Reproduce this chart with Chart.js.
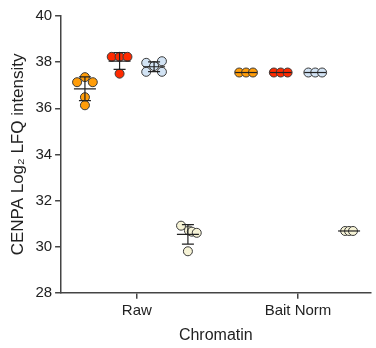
<!DOCTYPE html>
<html>
<head>
<meta charset="utf-8">
<script src="https://cdn.jsdelivr.net/npm/chart.js@4.4.1/dist/chart.umd.min.js"></script>
<style>
  html, body { margin: 0; padding: 0; background: #fff; }
  #wrap { width: 376px; height: 348px; }
</style>
</head>
<body>
<div id="wrap"><canvas id="cenpaChart" width="376" height="348"></canvas></div>
<script>
// === Data ===
const categories = ["Raw", "Bait Norm"];
const yTicks = [28, 30, 32, 34, 36, 38, 40];

const orangeValues = [[37.13, 37.35, 37.13, 36.48, 36.13], [37.55, 37.55, 37.55]];
const redValues = [[38.23, 38.23, 38.23, 37.5], [37.55, 37.55, 37.55]];
const blueValues = [[37.97, 38.04, 37.58, 37.58, 37.83], [37.55, 37.55, 37.55]];
const creamValues = [[30.91, 30.7, 30.65, 30.6, 29.8], [30.68, 30.68, 30.68]];

// === Layout / style ===
const pxPerUnit = 164;
const groupOffsets = [-0.322, -0.107, 0.107, 0.317];
const jitterPx = {
  orange: [[-8, 0, 8, 0, 0], [-7, 0, 7]],
  red: [[-8, 0, 8, 0], [-7, 0, 7]],
  blue: [[-8, 8, -8, 8, 0], [-7, 0, 7]],
  cream: [[-7, 1, 4, 9, 0], [-4, 0, 4]],
};

const seriesList = [
  { key: "orange", values: orangeValues, color: "#FF9D0A" },
  { key: "red", values: redValues, color: "#FF2A00" },
  { key: "blue", values: blueValues, color: "#D2E3F4" },
  { key: "cream", values: creamValues, color: "#F6F3D6" },
];

function buildPoints(series, s) {
  const pts = [];
  series.values.forEach((vals, c) => {
    vals.forEach((v, i) => {
      pts.push({ x: c + 1 + groupOffsets[s] + jitterPx[series.key][c][i] / pxPerUnit, y: v });
    });
  });
  return pts;
}

const datasets = seriesList.map((series, s) => ({
  label: series.key,
  data: buildPoints(series, s),
  backgroundColor: series.color,
  borderColor: "#3a3a3a",
  borderWidth: 1,
  pointRadius: 4.5,
}));

// mean +/- SD bars, drawn on top of the points
const errorBars = {
  id: "errorBars",
  afterDatasetsDraw(chart) {
    const { ctx, scales } = chart;
    ctx.save();
    ctx.strokeStyle = "#222";
    ctx.lineWidth = 1.2;
    seriesList.forEach((series, s) => {
      series.values.forEach((vals, c) => {
        const n = vals.length;
        const mean = vals.reduce((a, b) => a + b, 0) / n;
        const sd = Math.sqrt(vals.reduce((a, b) => a + (b - mean) ** 2, 0) / (n - 1));
        const x = scales.x.getPixelForValue(c + 1 + groupOffsets[s]);
        const yM = scales.y.getPixelForValue(mean);
        const yT = scales.y.getPixelForValue(mean + sd);
        const yB = scales.y.getPixelForValue(mean - sd);
        ctx.beginPath();
        ctx.moveTo(x - 11, yM); ctx.lineTo(x + 11, yM);
        if (sd > 0.01) {
          ctx.moveTo(x, yT); ctx.lineTo(x, yB);
          ctx.moveTo(x - 6, yT); ctx.lineTo(x + 6, yT);
          ctx.moveTo(x - 6, yB); ctx.lineTo(x + 6, yB);
        }
        ctx.stroke();
      });
    });
    ctx.restore();
  },
};

const fontFamily = "'Liberation Sans', Arial, sans-serif";

new Chart(document.getElementById("cenpaChart").getContext("2d"), {
  type: "scatter",
  data: { datasets },
  plugins: [errorBars],
  options: {
    responsive: false,
    animation: false,
    layout: { padding: { top: 16, right: 1, left: 8, bottom: 3 } },
    plugins: { legend: { display: false }, tooltip: { enabled: false } },
    scales: {
      x: {
        type: "linear",
        min: 0.53,
        max: 2.45,
        afterBuildTicks: (axis) => { axis.ticks = categories.map((_, i) => ({ value: i + 1 })); },
        ticks: {
          color: "#222",
          font: { family: fontFamily, size: 15 },
          padding: 3,
          callback: (v) => categories[v - 1],
        },
        grid: { drawOnChartArea: false, tickLength: 6, color: "#444", lineWidth: 1.5 },
        border: { color: "#444", width: 1.5 },
        title: {
          display: true,
          text: "Chromatin",
          color: "#222",
          font: { family: fontFamily, size: 16 },
          padding: { top: 3, bottom: 0 },
        },
      },
      y: {
        min: 28,
        max: 40,
        afterBuildTicks: (axis) => { axis.ticks = yTicks.map((v) => ({ value: v })); },
        ticks: {
          color: "#222",
          font: { family: fontFamily, size: 15 },
          padding: 3,
        },
        grid: { drawOnChartArea: false, tickLength: 6, color: "#444", lineWidth: 1.5 },
        border: { color: "#444", width: 1.5 },
        title: {
          display: true,
          text: "CENPA Log\u2082 LFQ intensity",
          color: "#222",
          font: { family: fontFamily, size: 17 },
          padding: { top: 0, bottom: 4 },
        },
      },
    },
  },
});
</script>
</body>
</html>
